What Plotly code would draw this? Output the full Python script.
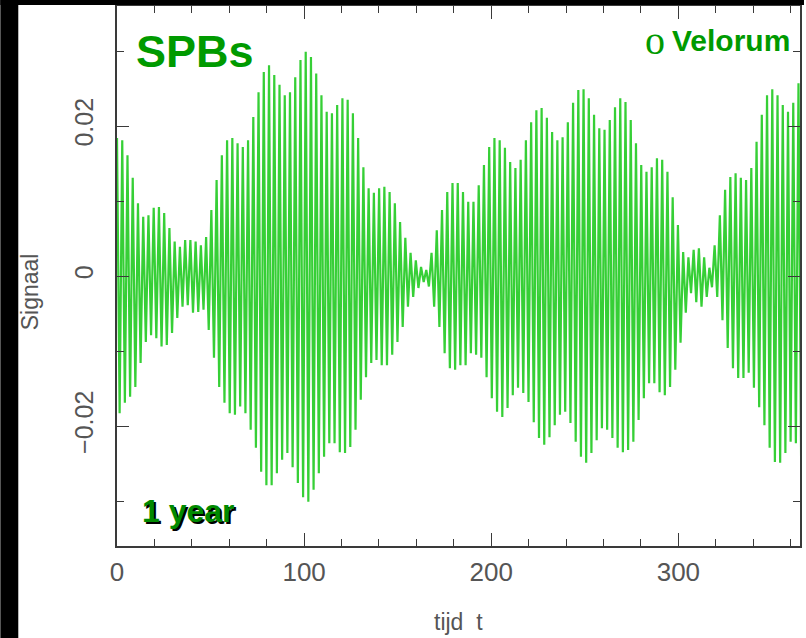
import numpy as np
import plotly.graph_objects as go

# ---- data -----------------------------------------------------------------
# successive maxima of the light-curve signal (one per pulsation cycle)
peaks = [
    0.0184, 0.0181, 0.0161, 0.0131, 0.0097, 0.0079, 0.0081, 0.0091, 0.0092, 0.0084,
    0.0064, 0.0046, 0.0039, 0.0048, 0.0048, 0.0046, 0.0041, 0.0052, 0.0088, 0.0128,
    0.0161, 0.0181, 0.0184, 0.0177, 0.0172, 0.0181, 0.0212, 0.0245, 0.0272, 0.0281,
    0.0268, 0.0255, 0.0241,
    0.0245, 0.0265, 0.0288, 0.0299, 0.0292, 0.0270, 0.0241, 0.0219, 0.0217, 0.0228,
    0.0237, 0.0235, 0.0217, 0.0184, 0.0145, 0.0117, 0.0111, 0.0117, 0.0119, 0.0112,
    0.0097, 0.0072, 0.0051, 0.0031, 0.0021, 0.0012, 0.0008, 0.0031, 0.0061, 0.0088,
    0.0112, 0.0124, 0.0124,
    0.0112, 0.0099, 0.0099, 0.0121, 0.0148, 0.0172, 0.0184, 0.0181, 0.0171, 0.0152,
    0.0144, 0.0155, 0.0181, 0.0205, 0.0221, 0.0224, 0.0211, 0.0192, 0.0181, 0.0185,
    0.0205, 0.0231, 0.0248, 0.0249, 0.0237, 0.0215, 0.0197, 0.0195, 0.0208, 0.0225,
    0.0237, 0.0232,
    0.0208, 0.0177, 0.0148, 0.0139, 0.0145, 0.0157, 0.0155, 0.0139, 0.0105, 0.0068,
    0.0032, 0.0025, 0.0035, 0.0037, 0.0025, 0.0011, 0.0041, 0.0081, 0.0115, 0.0132,
    0.0137, 0.0131, 0.0128, 0.0144, 0.0179, 0.0215, 0.0241, 0.0249, 0.0241, 0.0228,
    0.0219, 0.0231, 0.0257,
]
# successive minima of the signal
troughs = [
    -0.0183, -0.0169, -0.0161, -0.0148, -0.0116, -0.0088, -0.0079, -0.0083, -0.0094, -0.0092,
    -0.0076, -0.0056, -0.0041, -0.0039, -0.0049, -0.0048, -0.0045, -0.0072, -0.0109, -0.0148,
    -0.0169, -0.0183, -0.0185, -0.0174, -0.0183, -0.0205, -0.0229, -0.0261, -0.0279, -0.0279,
    -0.0263, -0.0245, -0.0236,
    -0.0255, -0.0276, -0.0295, -0.0301, -0.0285, -0.0263, -0.0241, -0.0223, -0.0223, -0.0235,
    -0.0236, -0.0228, -0.0205, -0.0165, -0.0135, -0.0116, -0.0112, -0.0119, -0.0119, -0.0105,
    -0.0088, -0.0068, -0.0041, -0.0028, -0.0016, -0.0008, -0.0014, -0.0041, -0.0068, -0.0103,
    -0.0123, -0.0125, -0.0119,
    -0.0119, -0.0103, -0.0105, -0.0109, -0.0135, -0.0163, -0.0181, -0.0188, -0.0176, -0.0159,
    -0.0149, -0.0156, -0.0168, -0.0195, -0.0216, -0.0225, -0.0215, -0.0199, -0.0185, -0.0181,
    -0.0196, -0.0221, -0.0241, -0.0249, -0.0236, -0.0219, -0.0203, -0.0205, -0.0216, -0.0229,
    -0.0235, -0.0232,
    -0.0221, -0.0192, -0.0163, -0.0143, -0.0143, -0.0155, -0.0159, -0.0148, -0.0125, -0.0089,
    -0.0049, -0.0023, -0.0035, -0.0041, -0.0028, -0.0015, -0.0028, -0.0059, -0.0096, -0.0123,
    -0.0136, -0.0136, -0.0129, -0.0149, -0.0175, -0.0199, -0.0229, -0.0248, -0.0249, -0.0236,
    -0.0221, -0.0223, -0.0243,
]
period_days = 2.8015          # pulsation period
x_ticks = [0, 100, 200, 300]
x_tick_text = ["0", "100", "200", "300"]
y_ticks = [-0.02, 0.0, 0.02]
y_tick_text = ["\u22120.02", "0", "0.02"]

# ---- build the zig-zag curve (max, min, max, ...) ------------------------
t_peak = np.arange(len(peaks)) * period_days
t_trough = t_peak + period_days / 2
t = np.empty(2 * len(peaks))
s = np.empty(2 * len(peaks))
t[0::2], t[1::2] = t_peak, t_trough
s[0::2], s[1::2] = peaks, troughs

GREEN = "#36cf36"
TXT_GREEN = "#009a00"
AX = "#3a3a3a"
LBL = "#555555"
BOLD = "Liberation Sans Narrow, Arial Narrow, Liberation Sans, Arial, sans-serif"
SANS = "Liberation Sans, Arial, sans-serif"

fig = go.Figure()
fig.add_trace(go.Scatter(x=t, y=s, mode="lines",
                         line=dict(color=GREEN, width=2.2), hoverinfo="skip"))

L, R, T, B = 117, 4, 6, 92
W, H = 806, 638
pw, ph = W - L - R, H - T - B


def px(xp):
    return (xp - L) / pw


def py(yp):
    return (H - B - yp) / ph


axis_common = dict(showline=True, linecolor=AX, linewidth=1.5, mirror="ticks",
                   ticks="inside", tickcolor=AX, tickwidth=1.3, showgrid=False,
                   zeroline=False)

fig.update_layout(
    width=W, height=H,
    margin=dict(l=L, r=R, t=T, b=B, pad=0),
    paper_bgcolor="white", plot_bgcolor="white",
    showlegend=False,
    xaxis=dict(range=[0, 365], tickvals=x_ticks, ticktext=x_tick_text, ticklen=13,
               minor=dict(dtick=20, ticklen=7, ticks="inside", tickcolor=AX, tickwidth=1.3),
               tickfont=dict(family=SANS, size=26, color=LBL),
               ticklabelstandoff=2, **axis_common),
    yaxis=dict(range=[-0.036, 0.036], tickvals=y_ticks, ticktext=y_tick_text, ticklen=12,
               tickangle=-90,
               minor=dict(dtick=0.01, ticklen=7, ticks="inside", tickcolor=AX, tickwidth=1.3),
               tickfont=dict(family=SANS, size=25, color=LBL),
               ticklabelstandoff=12, **axis_common),
)

ann = []
# axis titles
ann.append(dict(text="tijd  t", x=px(460), y=py(622), xref="paper", yref="paper",
                showarrow=False, xanchor="center", yanchor="middle",
                font=dict(family=SANS, size=23, color=LBL)))
ann.append(dict(text="Signaal", x=px(30), y=py(292), xref="paper", yref="paper",
                showarrow=False, xanchor="center", yanchor="middle", textangle=-90,
                font=dict(family=SANS, size=23, color=LBL)))
# titles in the plot
ann.append(dict(text="<b>SPBs</b>", x=px(195), y=py(52), xref="paper", yref="paper",
                showarrow=False, xanchor="center", yanchor="middle",
                font=dict(family=BOLD, size=45, color=TXT_GREEN)))
ann.append(dict(text="\u03bf", x=px(657), y=py(40), xref="paper", yref="paper",
                showarrow=False, xanchor="center", yanchor="middle",
                font=dict(family="Liberation Serif, Times New Roman, serif", size=40, color=TXT_GREEN)))
ann.append(dict(text="<b>Velorum</b>", x=px(672), y=py(41), xref="paper", yref="paper",
                showarrow=False, xanchor="left", yanchor="middle",
                font=dict(family=BOLD, size=30, color=TXT_GREEN)))
ann.append(dict(text="<b>1 year</b>", x=px(189), y=py(511), xref="paper", yref="paper",
                showarrow=False, xanchor="center", yanchor="middle",
                font=dict(family=BOLD, size=32, color="#008a00",
                          shadow="2px 2px 0px #000000")))
fig.update_layout(annotations=ann)

# black borders of the original slide image
fig.add_shape(type="rect", xref="paper", yref="paper", x0=px(0), x1=px(18), y0=py(H), y1=py(0),
              fillcolor="black", line=dict(width=0), layer="above")
fig.add_shape(type="rect", xref="paper", yref="paper", x0=px(0), x1=px(W), y0=py(5), y1=py(0),
              fillcolor="black", line=dict(width=0), layer="above")

fig.write_html("out.html")
